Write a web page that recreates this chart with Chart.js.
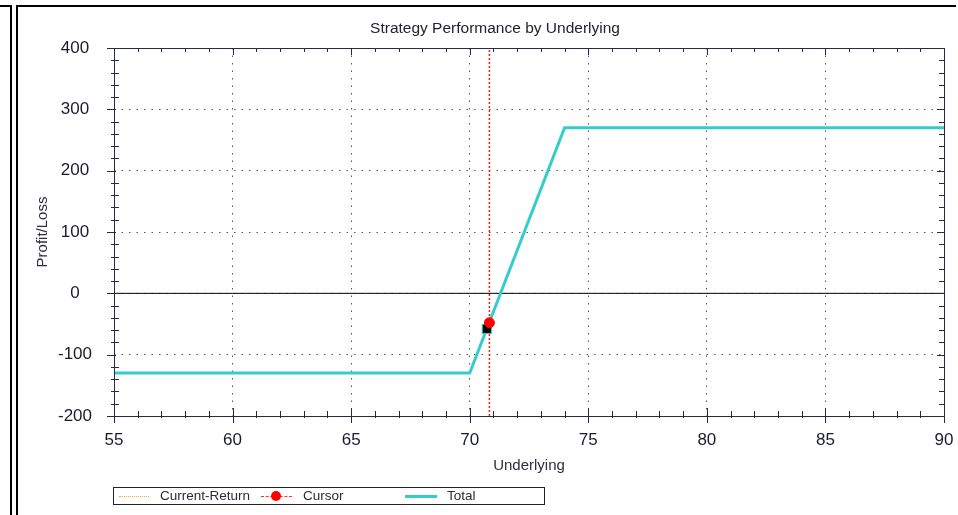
<!DOCTYPE html>
<html lang="en">
<head>
    <meta charset="UTF-8">
    <title>Strategy Performance by Underlying</title>
    <script src="https://cdn.jsdelivr.net/npm/chart.js"></script>
    <style>
        body {
            margin: 0;
            background: #ffffff;
            font-family: "Liberation Sans", Arial, sans-serif;
            overflow: hidden;
        }

        .wrap {
            position: relative;
            width: 958px;
            height: 515px;
        }

        canvas {
            position: absolute;
            left: 0;
            top: 0;
        }

        /* window frame lines */
        .line {
            position: absolute;
            background: #000;
        }

        .legend {
            position: absolute;
            left: 113px;
            top: 487px;
            width: 430px;
            height: 16px;
            border: 1px solid #222;
            font-size: 13.5px;
            color: #2a2a3a;
        }

        .legend .item {
            position: absolute;
            top: 0;
            line-height: 16px;
        }

        .legend .sample {
            position: absolute;
            top: 8px;
            height: 0;
        }
    </style>
</head>
<body>
    <div class="wrap">
        <canvas id="pnlChart" width="958" height="515"></canvas>

        <!-- frame around the panels -->
        <div class="line" style="left:0;top:5px;width:11px;height:2px"></div>
        <div class="line" style="left:10px;top:5px;width:2px;height:510px"></div>
        <div class="line" style="left:16px;top:5px;width:2px;height:510px"></div>
        <div class="line" style="left:16px;top:5px;width:940px;height:2px"></div>

        <!-- Legend -->
        <div class="legend">
            <div class="sample" style="left:5px;width:30px;border-top:1px dotted #f5a623"></div>
            <div class="item" style="left:46px">Current-Return</div>
            <div class="sample" style="left:147px;width:31px;border-top:1px dashed #ff3030"></div>
            <div class="sample" style="left:157px;top:3px;width:10px;height:10px;border-radius:50%;background:#ff0000"></div>
            <div class="item" style="left:189px">Cursor</div>
            <div class="sample" style="left:291px;top:7px;width:32px;border-top:3px solid #35cccc"></div>
            <div class="item" style="left:333px">Total</div>
        </div>
    </div>

    <script>
        // Total profit/loss curve (underlying, P/L)
        const totalX = [55, 70, 74, 90];
        const totalY = [-130, -130, 270, 270];

        // Cursor position and current marker
        const cursorX = 70.83;
        const cursorY = -48;
        const markerX = 70.72;
        const markerY = -58;

        // Axis ranges
        const xRange = [55, 90];
        const yRange = [-200, 400];
        const xStep = 5;
        const yStep = 100;

        const axisColor = '#262a45';

        // Title, plot frame and the small tick marks on all four sides
        const frameTicks = {
            id: 'frameTicks',
            afterDraw(chart) {
                const { ctx, chartArea: a, scales: { x, y } } = chart;
                ctx.save();
                ctx.strokeStyle = axisColor;
                ctx.lineWidth = 1;
                ctx.strokeRect(a.left + 0.5, a.top + 0.5, a.right - a.left, a.bottom - a.top);

                ctx.beginPath();
                for (let v = xRange[0]; v <= xRange[1]; v += 1) {
                    const px = Math.round(x.getPixelForValue(v)) + 0.5;
                    const major = v % xStep === 0;
                    // bottom
                    ctx.moveTo(px, a.bottom - (major ? 8 : 5));
                    ctx.lineTo(px, a.bottom + (major ? 7 : 2));
                    // top
                    ctx.moveTo(px, a.top);
                    ctx.lineTo(px, a.top + (major ? 7 : 4));
                }
                for (let v = yRange[0]; v <= yRange[1]; v += 20) {
                    const py = Math.round(y.getPixelForValue(v)) + 0.5;
                    const major = v % yStep === 0;
                    // left
                    ctx.moveTo(a.left - (major ? 7 : 3), py);
                    ctx.lineTo(a.left + (major ? 2 : 5), py);
                    // right
                    ctx.moveTo(a.right - (major ? 7 : 5), py);
                    ctx.lineTo(a.right, py);
                }
                ctx.stroke();

                ctx.fillStyle = '#222233';
                ctx.font = '15.5px "Liberation Sans", Arial, sans-serif';
                ctx.textAlign = 'center';
                ctx.textBaseline = 'middle';
                ctx.fillText('Strategy Performance by Underlying', 495, 29);
                ctx.restore();
            }
        };

        const chart = new Chart(document.getElementById('pnlChart'), {
            type: 'scatter',
            data: {
                datasets: [
                    {
                        label: 'Zero',
                        order: 5,
                        data: [{ x: xRange[0], y: 0 }, { x: xRange[1], y: 0 }],
                        showLine: true,
                        borderColor: '#000000',
                        borderWidth: 1,
                        pointRadius: 0
                    },
                    {
                        label: 'Current-Return',
                        order: 4,
                        data: [],
                        showLine: true,
                        borderColor: '#f5a623',
                        borderDash: [1, 2],
                        borderWidth: 1,
                        pointRadius: 0
                    },
                    {
                        label: 'Cursor line',
                        order: 3,
                        data: [{ x: cursorX, y: yRange[0] }, { x: cursorX, y: yRange[1] }],
                        showLine: true,
                        borderColor: '#ff1a1a',
                        borderDash: [2, 2],
                        borderWidth: 1.5,
                        pointRadius: 0
                    },
                    {
                        label: 'Total',
                        order: 2,
                        data: totalX.map((v, i) => ({ x: v, y: totalY[i] })),
                        showLine: true,
                        borderColor: '#35cccc',
                        borderWidth: 3,
                        pointRadius: 0
                    },
                    {
                        label: 'Marker',
                        order: 1,
                        data: [{ x: markerX, y: markerY }],
                        pointStyle: 'rect',
                        pointRadius: 6.5,
                        backgroundColor: '#000000',
                        borderColor: '#35cccc',
                        borderWidth: 1
                    },
                    {
                        label: 'Cursor',
                        order: 0,
                        data: [{ x: cursorX, y: cursorY }],
                        pointRadius: 5,
                        backgroundColor: '#ff0000',
                        borderColor: '#ff0000'
                    }
                ]
            },
            options: {
                responsive: false,
                animation: false,
                devicePixelRatio: 1,
                layout: {
                    padding: { left: 34, right: 14, top: 48, bottom: 29 }
                },
                plugins: {
                    legend: { display: false },
                    tooltip: { enabled: false }
                },
                scales: {
                    x: {
                        type: 'linear',
                        min: xRange[0],
                        max: xRange[1],
                        afterFit: s => {
                            s.height = 70;
                            s.paddingLeft = 0;
                            s.paddingRight = 0;
                        },
                        ticks: {
                            stepSize: xStep,
                            padding: 14,
                            color: '#1a1a2e',
                            font: { family: '"Liberation Sans", Arial, sans-serif', size: 17 },
                            maxRotation: 0
                        },
                        grid: {
                            color: '#555566',
                            lineWidth: 1,
                            drawTicks: false
                        },
                        border: { display: false, dash: [1.5, 6] },
                        title: {
                            display: true,
                            text: 'Underlying',
                            color: '#2e2e40',
                            font: { family: '"Liberation Sans", Arial, sans-serif', size: 15 },
                            padding: { top: 0, bottom: 11 }
                        }
                    },
                    y: {
                        min: yRange[0],
                        max: yRange[1],
                        afterFit: s => {
                            s.width = 80;
                            s.paddingTop = 0;
                            s.paddingBottom = 0;
                        },
                        ticks: {
                            stepSize: yStep,
                            crossAlign: 'center',
                            color: '#1a1a2e',
                            font: { family: '"Liberation Sans", Arial, sans-serif', size: 17 }
                        },
                        grid: {
                            color: '#555566',
                            lineWidth: 1,
                            drawTicks: true,
                            tickLength: 19,
                            tickColor: 'rgba(0,0,0,0)'
                        },
                        border: { display: false, dash: [1.5, 6] },
                        title: {
                            display: true,
                            text: 'Profit/Loss',
                            color: '#2e2e40',
                            font: { family: '"Liberation Sans", Arial, sans-serif', size: 15 },
                            padding: { top: 0, bottom: 0 }
                        }
                    }
                }
            },
            plugins: [frameTicks]
        });
    </script>
</body>
</html>
